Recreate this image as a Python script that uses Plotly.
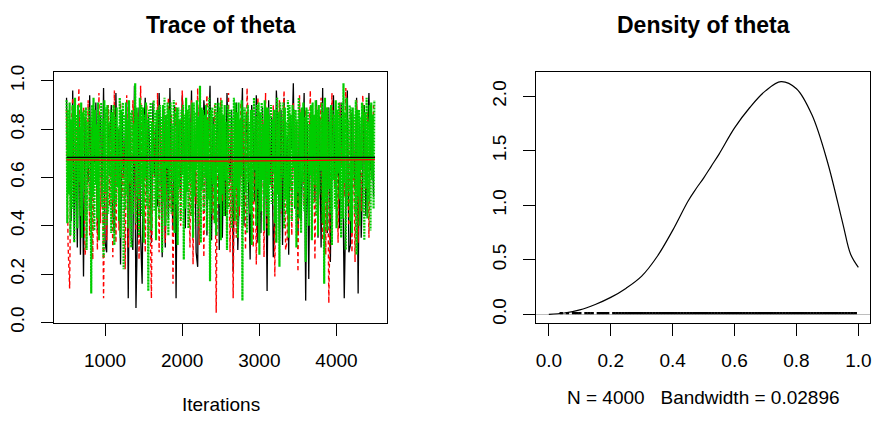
import plotly.graph_objects as go

# ---------------- data ----------------
iterations = list(range(501, 4501, 20))
iterations_g = list(range(501, 4501, 10))

chain1 = [
0.93,0.55,0.81,0.42,0.96,0.34,0.74,0.31,0.88,0.28,0.79,0.19,0.85,0.71,0.58,0.94,0.47,0.83,0.66,0.91,
0.38,0.77,0.86,0.52,0.97,0.33,0.29,0.82,0.73,0.90,0.45,0.37,0.95,0.57,0.80,0.24,0.87,0.61,0.76,0.92,
0.10,0.84,0.35,0.30,0.98,0.06,0.41,0.89,0.36,0.16,0.78,0.93,0.54,0.86,0.70,0.33,0.91,0.60,0.82,0.48,
0.95,0.75,0.27,0.88,0.31,0.80,0.43,0.97,0.59,0.38,0.90,0.10,0.84,0.67,0.52,0.94,0.78,0.39,0.87,0.71,
0.62,0.96,0.46,0.81,0.29,0.23,0.89,0.74,0.56,0.92,0.83,0.36,0.77,0.98,0.34,0.85,0.49,0.72,0.93,0.30,
0.86,0.35,0.79,0.44,0.95,0.70,0.58,0.88,0.21,0.76,0.91,0.30,0.53,0.84,0.97,0.40,0.73,0.87,0.60,0.26,
0.90,0.78,0.50,0.94,0.33,0.82,0.37,0.89,0.63,0.75,0.13,0.92,0.57,0.85,0.27,0.45,0.96,0.80,0.34,0.88,
0.32,0.93,0.54,0.77,0.28,0.86,0.72,0.99,0.47,0.81,0.36,0.90,0.42,0.74,0.95,0.09,0.83,0.18,0.87,0.69,
0.76,0.51,0.92,0.35,0.85,0.31,0.97,0.43,0.79,0.37,0.89,0.25,0.73,0.94,0.56,0.84,0.70,0.39,0.91,0.62,
0.10,0.48,0.96,0.29,0.32,0.87,0.75,0.55,0.93,0.12,0.82,0.35,0.58,0.90,0.44,0.78,0.95,0.63,0.86,0.52,
]

chain2 = [
0.88,0.32,0.14,0.79,0.93,0.51,0.84,0.70,0.97,0.45,0.76,0.89,0.28,0.35,0.92,0.36,0.81,0.26,0.86,0.73,
0.30,0.95,0.41,0.78,0.10,0.87,0.34,0.90,0.48,0.83,0.27,0.96,0.33,0.80,0.38,0.91,0.52,0.75,0.22,0.94,
0.31,0.85,0.46,0.92,0.74,0.38,0.87,0.26,0.98,0.57,0.81,0.29,0.90,0.35,0.53,0.10,0.84,0.77,0.43,0.95,
0.29,0.82,0.36,0.89,0.33,0.59,0.93,0.47,0.86,0.16,0.78,0.91,0.37,0.84,0.40,0.96,0.70,0.54,0.88,0.75,
0.31,0.92,0.24,0.83,0.49,0.97,0.32,0.58,0.87,0.27,0.80,0.94,0.56,0.85,0.69,0.42,0.90,0.04,0.79,0.64,
0.93,0.50,0.86,0.72,0.37,0.95,0.29,0.81,0.10,0.89,0.35,0.76,0.44,0.91,0.58,0.84,0.30,0.97,0.71,0.53,
0.88,0.31,0.80,0.24,0.93,0.74,0.47,0.86,0.27,0.95,0.39,0.82,0.70,0.55,0.90,0.19,0.85,0.68,0.92,0.45,
0.78,0.96,0.30,0.34,0.87,0.73,0.36,0.91,0.50,0.83,0.21,0.94,0.66,0.79,0.48,0.88,0.71,0.54,0.96,0.42,
0.85,0.26,0.90,0.37,0.77,0.93,0.34,0.82,0.28,0.89,0.08,0.47,0.95,0.74,0.56,0.86,0.33,0.91,0.64,0.80,
0.52,0.97,0.72,0.40,0.88,0.29,0.84,0.25,0.92,0.33,0.78,0.46,0.94,0.70,0.55,0.87,0.35,0.81,0.63,0.90,
]

chain3 = [
0.92,0.41,0.88,0.53,0.91,0.36,0.84,0.47,0.90,0.62,0.33,0.93,0.50,0.86,0.39,0.90,0.58,0.81,0.44,0.91,
0.35,0.87,0.55,0.88,0.42,0.89,0.30,0.83,0.64,0.89,0.46,0.85,0.12,0.90,0.52,0.93,0.38,0.88,0.57,0.82,
0.43,0.91,0.34,0.86,0.60,0.91,0.48,0.84,0.27,0.92,0.54,0.89,0.40,0.90,0.45,0.83,0.61,0.88,0.37,0.87,
0.51,0.90,0.32,0.85,0.49,0.89,0.56,0.81,0.42,0.93,0.35,0.88,0.63,0.91,0.22,0.86,0.47,0.91,0.53,0.84,
0.39,0.92,0.58,0.87,0.31,0.88,0.45,0.82,0.66,0.99,0.41,0.89,0.52,0.85,0.36,0.93,0.57,0.90,0.44,0.89,
0.33,0.86,0.60,0.91,0.48,0.84,0.13,0.88,0.55,0.91,0.38,0.83,0.62,0.92,0.46,0.87,0.34,0.88,0.51,0.89,
0.43,0.90,0.57,0.85,0.29,0.90,0.50,0.93,0.40,0.86,0.64,0.91,0.36,0.88,0.53,0.91,0.45,0.82,0.59,0.92,
0.37,0.87,0.49,0.89,0.32,0.89,0.56,0.84,0.42,0.88,0.61,0.90,0.26,0.86,0.47,0.93,0.54,0.88,0.39,0.90,
0.58,0.83,0.44,0.91,0.35,0.91,0.52,0.87,0.63,0.92,0.40,0.85,0.48,0.98,0.33,0.89,0.55,0.88,0.46,0.86,
0.60,0.90,0.38,0.84,0.51,0.93,0.17,0.88,0.45,0.89,0.57,0.82,0.41,0.91,0.36,0.87,0.62,0.91,0.49,0.89,
0.34,0.92,0.53,0.86,0.44,0.90,0.59,0.83,0.30,0.90,0.47,0.88,0.65,0.88,0.39,0.85,0.52,0.93,0.42,0.91,
0.56,0.87,0.35,0.91,0.48,0.84,0.61,0.92,0.09,0.89,0.43,0.89,0.54,0.86,0.37,0.90,0.58,0.83,0.45,0.88,
0.32,0.88,0.50,0.93,0.63,0.85,0.40,0.90,0.55,0.91,0.28,0.87,0.46,0.91,0.59,0.82,0.38,0.92,0.52,0.89,
0.44,0.89,0.36,0.86,0.57,0.90,0.49,0.84,0.62,0.88,0.41,0.88,0.33,0.93,0.53,0.87,0.23,0.91,0.47,0.85,
0.60,0.91,0.39,0.89,0.51,0.83,0.45,0.92,0.35,0.90,0.56,0.86,0.42,0.90,0.64,0.88,0.48,0.88,0.31,0.84,
0.54,0.93,0.43,0.87,0.37,0.89,0.58,0.91,0.46,0.85,0.25,0.89,0.52,0.88,0.40,0.82,0.61,0.90,0.34,0.91,
0.49,0.86,0.57,0.92,0.44,0.88,0.36,0.90,0.53,0.84,0.63,0.91,0.41,0.87,0.16,0.93,0.50,0.89,0.38,0.89,
0.55,0.83,0.45,0.90,0.32,0.88,0.59,0.86,0.47,0.92,0.39,0.88,0.62,0.91,0.51,0.85,0.35,0.91,0.43,0.99,
0.58,0.87,0.30,0.93,0.48,0.84,0.54,0.90,0.42,0.89,0.37,0.89,0.60,0.86,0.45,0.92,0.28,0.88,0.52,0.88,
0.40,0.85,0.63,0.91,0.46,0.90,0.34,0.87,0.56,0.93,0.43,0.83,0.50,0.90,0.38,0.91,0.59,0.86,0.47,0.92,
]

smooth_iter = [501, 1500, 2500, 3500, 4500]
smooth1 = [0.683, 0.683, 0.682, 0.683, 0.683]
smooth2 = [0.673, 0.671, 0.668, 0.670, 0.674]
smooth3 = [0.679, 0.678, 0.678, 0.679, 0.680]

dens_x = [0.0, 0.05, 0.10, 0.15, 0.20, 0.25, 0.30, 0.35, 0.40, 0.45, 0.475, 0.50, 0.525,
          0.55, 0.60, 0.65, 0.70, 0.75, 0.80, 0.85, 0.90, 0.95, 0.975, 1.0]
dens_y = [0.0, 0.012, 0.04, 0.09, 0.155, 0.24, 0.35, 0.53, 0.77, 1.04, 1.15, 1.25, 1.36,
          1.47, 1.71, 1.90, 2.05, 2.135, 2.07, 1.83, 1.40, 0.83, 0.55, 0.43]

trace_ticks = [1000, 2000, 3000, 4000]
trace_yticks = [0.0, 0.2, 0.4, 0.6, 0.8, 1.0]
dens_xticks = [0.0, 0.2, 0.4, 0.6, 0.8, 1.0]
dens_yticks = [0.0, 0.5, 1.0, 1.5, 2.0]

# ---------------- figure ----------------
W, H = 877, 425
FONT = "Liberation Sans, Arial, Helvetica, sans-serif"
BLACK = "#000000"
RED = "#FF0000"
GREEN = "#00CD00"

fig = go.Figure()

chains = [(iterations, chain1, BLACK, "solid", 1.3),
          (iterations, chain2, RED, "4px,3px", 1.4),
          (iterations_g, chain3, GREEN, "2px,1px", 2.2)]
for xs, vals, col, dash, w in chains:
    fig.add_trace(go.Scatter(x=xs, y=vals, mode="lines",
                             line=dict(color=col, width=w, dash=dash),
                             xaxis="x", yaxis="y", hoverinfo="skip"))
for vals, col in [(smooth3, GREEN), (smooth2, RED), (smooth1, BLACK)]:
    fig.add_trace(go.Scatter(x=smooth_iter, y=vals, mode="lines",
                             line=dict(color=col, width=1.3),
                             xaxis="x", yaxis="y", hoverinfo="skip"))

# density curve
fig.add_trace(go.Scatter(x=dens_x, y=dens_y, mode="lines", line_shape="spline",
                         line=dict(color=BLACK, width=1.2), xaxis="x2", yaxis="y2"))

# rug of observations (vertical segments from 0 to max/100)
rug_h = max(dens_y) / 100
rx, ry = [], []
for v in sorted(set(chain1 + chain2 + chain3)):
    rx += [v, v, None]
    ry += [0, rug_h, None]
fig.add_trace(go.Scatter(x=rx, y=ry, mode="lines", line=dict(color=BLACK, width=3.4),
                         xaxis="x2", yaxis="y2", hoverinfo="skip"))

def px_x(a, b):
    return [a / W, b / W]

def px_y(top, bottom):
    return [1 - bottom / H, 1 - top / H]

axis_common = dict(showline=True, mirror=True, linecolor=BLACK, linewidth=1,
                   showgrid=False, zeroline=False, ticks="outside", ticklen=12,
                   tickcolor=BLACK, tickwidth=1,
                   tickfont=dict(family=FONT, size=19, color=BLACK))

fig.update_layout(
    width=W, height=H, margin=dict(l=0, r=0, t=0, b=0),
    paper_bgcolor="white", plot_bgcolor="white", showlegend=False,
    xaxis=dict(domain=px_x(53.3, 387.7), range=[340, 4660], tickvals=trace_ticks,
               ticktext=[str(t) for t in trace_ticks], ticklabelstandoff=8,
               anchor="y", **axis_common),
    yaxis=dict(domain=px_y(67.7, 328.7), range=[-0.004, 1.036], tickvals=trace_yticks,
               ticktext=[f"{t:.1f}" for t in trace_yticks], tickangle=-90,
               ticklabelstandoff=10, anchor="x", **axis_common),
    xaxis2=dict(domain=px_x(537.3, 871.7), range=[-0.04, 1.0367], tickvals=dens_xticks,
                ticktext=[f"{t:.1f}" for t in dens_xticks], ticklabelstandoff=8,
                anchor="y2", **axis_common),
    yaxis2=dict(domain=px_y(67.7, 328.7), range=[-0.083, 2.222], tickvals=dens_yticks,
                ticktext=[f"{t:.1f}" for t in dens_yticks], tickangle=-90,
                ticklabelstandoff=10, anchor="x2", **axis_common),
)
fig.layout.yaxis2.zeroline = True
fig.layout.yaxis2.zerolinecolor = "#BEBEBE"
fig.layout.yaxis2.zerolinewidth = 1

def ann(text, xc, yc, size, bold=False):
    fig.add_annotation(text=f"<b>{text}</b>" if bold else text,
                       x=xc / W, y=1 - yc / H, xref="paper", yref="paper",
                       xanchor="center", yanchor="middle", showarrow=False,
                       font=dict(family=FONT, size=size, color=BLACK))

ann("Trace of theta", 220.5, 19, 23, bold=True)
ann("Density of theta", 704.5, 19, 23, bold=True)
ann("Iterations", 220.5, 413, 19)
ann("N = 4000   Bandwidth = 0.02896", 704.5, 406, 19)

fig.write_html("out.html")
